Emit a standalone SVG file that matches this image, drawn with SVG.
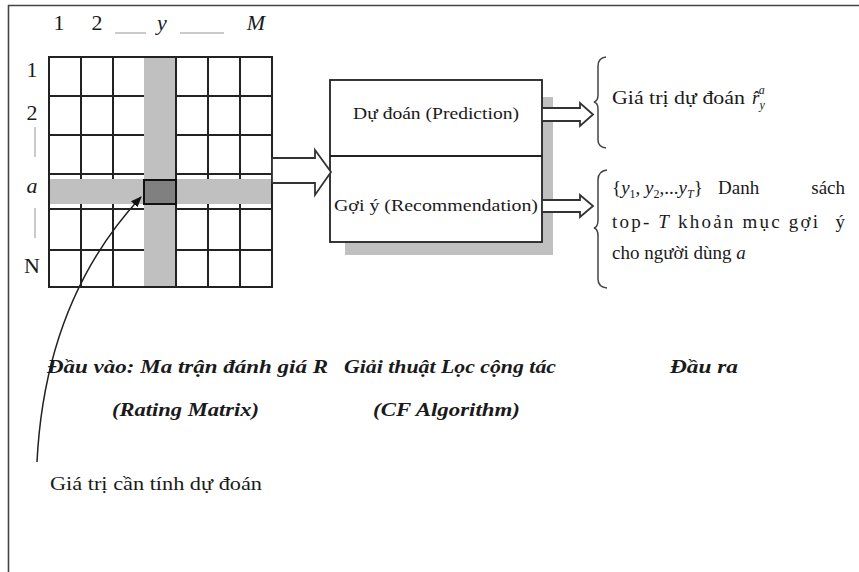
<svg xmlns="http://www.w3.org/2000/svg" width="859" height="572" viewBox="0 0 859 572">
<defs>
<style>
.t{font-family:"Liberation Serif","Times New Roman",serif;fill:#1a1a1a;}
.bi{font-family:"Liberation Serif","Times New Roman",serif;font-weight:bold;font-style:italic;fill:#1a1a1a;font-size:19px;}
.it{font-style:italic;}
.grid{stroke:#222;stroke-width:2;fill:none;}
.hollow{fill:#fff;stroke:#333;stroke-width:1.8;stroke-linejoin:miter;}
.brace{fill:none;stroke:#444;stroke-width:1.5;}
.dots{stroke:#b8b8b8;stroke-width:1.5;}
</style>
<marker id="ah" viewBox="0 0 10 10" refX="9" refY="5" markerWidth="11" markerHeight="11" markerUnits="userSpaceOnUse" orient="auto">
<path d="M0,1 L10,5 L0,9 z" fill="#111"/>
</marker>
</defs>
<rect width="859" height="572" fill="#fff"/>
<g id="frame">
<line x1="8.5" y1="5" x2="8.5" y2="572" stroke="#444" stroke-width="1.6"/>
<line x1="8" y1="5.5" x2="859" y2="5.5" stroke="#444" stroke-width="1.6"/>
</g>
<g id="matrix">
<text class="t" x="59" y="30" font-size="22" text-anchor="middle">1</text>
<text class="t" x="97" y="30" font-size="22" text-anchor="middle">2</text>
<text class="t it" x="162" y="30" font-size="22" text-anchor="middle">y</text>
<text class="t it" x="256" y="30" font-size="22" text-anchor="middle">M</text>
<line class="dots" x1="115" y1="33" x2="146" y2="33"/>
<line class="dots" x1="180" y1="33" x2="224" y2="33"/>
<text class="t" x="32" y="77" font-size="22" text-anchor="middle">1</text>
<text class="t" x="32" y="120" font-size="22" text-anchor="middle">2</text>
<text class="t it" x="32" y="193" font-size="22" text-anchor="middle">a</text>
<text class="t" x="32" y="273" font-size="22" text-anchor="middle">N</text>
<line class="dots" x1="35" y1="127" x2="35" y2="157"/>
<line class="dots" x1="35" y1="208" x2="35" y2="238"/>
<path class="grid" d="M81,57V287M113,57V287M208,57V287M240,57V287M49,96H272M49,135H272M49,174H272M49,209H272M49,250H272"/>
<rect x="144" y="57" width="32" height="230" fill="#c0c0c0"/>
<rect x="49" y="179" width="223" height="25" fill="#c0c0c0"/>
<line x1="176" y1="57" x2="176" y2="179" stroke="#222" stroke-width="2"/>
<line x1="176" y1="204" x2="176" y2="287" stroke="#222" stroke-width="2"/>
<rect x="49" y="57" width="223" height="230" class="grid"/>
<rect x="144" y="180" width="32" height="24" fill="#808080" stroke="#111" stroke-width="2"/>
</g>
<g id="cf-box">
<rect x="345" y="97" width="208" height="158" fill="#c0c0c0"/>
<rect x="330" y="80" width="212" height="162" fill="#fff" stroke="#222" stroke-width="1.8"/>
<line x1="330" y1="156" x2="542" y2="156" stroke="#222" stroke-width="1.8"/>
<text class="t" x="436" y="119" font-size="17" text-anchor="middle" textLength="166" lengthAdjust="spacingAndGlyphs">Dự đoán (Prediction)</text>
<text class="t" x="436" y="211" font-size="17" text-anchor="middle" textLength="204" lengthAdjust="spacingAndGlyphs">Gợi ý (Recommendation)</text>
</g>
<g id="connectors">
<polygon class="hollow" points="272,158 315,158 315,150 331,172 315,195 315,183 272,183"/>
<polygon class="hollow" points="542,108 580,108 580,103 593,114.5 580,126 580,121 542,121"/>
<polygon class="hollow" points="542,200 580,200 580,195 593,206 580,217 580,212 542,212"/>
<path d="M37,462 Q45,300 141,197" fill="none" stroke="#222" stroke-width="1.5" marker-end="url(#ah)"/>
</g>
<g id="outputs">
<path class="brace" d="M606,57 Q598,58 598,66 L598,95 Q598,101 594,102 Q598,103 598,109 L598,140 Q598,147 606,148"/>
<path class="brace" d="M607,170 Q598,171 598,180 L598,220 Q598,227 594,228 Q598,229 598,236 L598,279 Q598,287 607,288"/>
<text class="t" x="612" y="104" font-size="19"><tspan textLength="133" lengthAdjust="spacingAndGlyphs">Giá trị dự đoán</tspan><tspan class="it" x="752">r̂</tspan><tspan class="it" font-size="12" dy="5">y</tspan><tspan class="it" font-size="12" dx="-6" dy="-15">a</tspan></text>
<text class="t" x="612" y="194" font-size="19"><tspan>{</tspan><tspan class="it">y</tspan><tspan font-size="12" dy="4">1</tspan><tspan dy="-4">, </tspan><tspan class="it">y</tspan><tspan font-size="12" dy="4">2</tspan><tspan dy="-4">,...</tspan><tspan class="it">y</tspan><tspan class="it" font-size="12" dy="4">T</tspan><tspan dy="-4">}</tspan></text>
<text class="t" x="718" y="194" font-size="19">Danh</text>
<text class="t" x="845" y="194" font-size="19" text-anchor="end">sách</text>
<text class="t" x="612" y="228" font-size="19" textLength="206" lengthAdjust="spacing">top- <tspan class="it">T</tspan> khoản mục gợi</text>
<text class="t" x="845" y="228" font-size="19" text-anchor="end">ý</text>
<text class="t" x="612" y="259" font-size="19">cho người dùng <tspan class="it">a</tspan></text>
</g>
<g id="captions">
<text class="bi" x="47" y="373" textLength="281" lengthAdjust="spacingAndGlyphs">Đầu vào: Ma trận đánh giá R</text>
<text class="bi" x="112" y="416" textLength="147" lengthAdjust="spacingAndGlyphs">(Rating Matrix)</text>
<text class="bi" x="344" y="373" textLength="212" lengthAdjust="spacingAndGlyphs">Giải thuật Lọc cộng tác</text>
<text class="bi" x="373" y="416" textLength="147" lengthAdjust="spacingAndGlyphs">(CF Algorithm)</text>
<text class="bi" x="670" y="373" textLength="68" lengthAdjust="spacingAndGlyphs">Đầu ra</text>
<text class="t" x="50" y="490" font-size="18" textLength="212" lengthAdjust="spacingAndGlyphs">Giá trị cần tính dự đoán</text>
</g>
</svg>
